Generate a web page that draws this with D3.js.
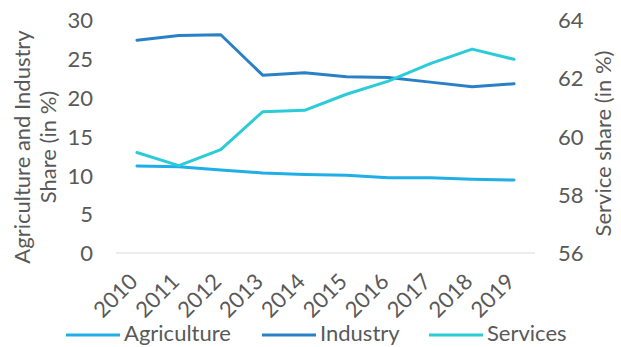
<!DOCTYPE html>
<html>
<head>
<meta charset="utf-8">
<script src="https://cdn.jsdelivr.net/npm/d3@7"></script>
<style>
  html, body { margin: 0; padding: 0; background: #fff; }
  svg { display: block; font-family: Lato, "Open Sans", sans-serif; }
</style>
</head>
<body>
<svg id="chart" width="621" height="347"></svg>
<script>
// Sector shares of GDP, 2010–2019
const years = ["2010","2011","2012","2013","2014","2015","2016","2017","2018","2019"];
const agriculture = [11.2, 11.1, 10.7, 10.3, 10.1, 10.0, 9.7, 9.7, 9.5, 9.4];
const industry    = [27.4, 28.0, 28.1, 22.9, 23.2, 22.7, 22.6, 22.0, 21.4, 21.8];
const services    = [59.45, 59.0, 59.55, 60.85, 60.9, 61.45, 61.9, 62.5, 63.0, 62.65];
const leftTicks  = [0, 5, 10, 15, 20, 25, 30];
const rightTicks = [56, 58, 60, 62, 64];

const colors = { Agriculture: "#20aee6", Industry: "#2a80c6", Services: "#2ccbd8" };
const textColor = "#595959";
const fontSize = "22px";

const svg = d3.select("#chart");
const plot = { left: 116, right: 535, top: 20, bottom: 253 };

const x = d3.scaleBand().domain(years).range([plot.left, plot.right]);
const yL = d3.scaleLinear().domain([0, 30]).range([plot.bottom, plot.top]);
const yR = d3.scaleLinear().domain([56, 64]).range([plot.bottom, plot.top]);
const cx = d => x(d) + x.bandwidth() / 2;

// baseline
svg.append("line")
  .attr("x1", plot.left).attr("x2", plot.right)
  .attr("y1", yL(0)).attr("y2", yL(0))
  .attr("stroke", "#d9d9d9").attr("stroke-width", 1);

// left axis
const axL = d3.axisLeft(yL).tickValues(leftTicks).tickSize(0).tickPadding(0);
const gL = svg.append("g").attr("transform", "translate(93,0)").call(axL);
gL.select(".domain").remove();
gL.selectAll("text").attr("fill", textColor).style("font-size", fontSize).style("font-family", "Lato").attr("dy", "0.35em");

// right axis
const axR = d3.axisRight(yR).tickValues(rightTicks).tickSize(0).tickPadding(0);
const gR = svg.append("g").attr("transform", "translate(558,0)").call(axR);
gR.select(".domain").remove();
gR.selectAll("text").attr("fill", textColor).style("font-size", fontSize).style("font-family", "Lato").attr("dy", "0.35em");

// x axis labels, rotated
const gX = svg.append("g");
gX.selectAll("text").data(years).join("text")
  .attr("transform", d => `translate(${cx(d) + 2},${283}) rotate(-45)`)
  .attr("text-anchor", "end")
  .attr("fill", textColor)
  .style("font-size", fontSize)
  .text(d => d);

// axis titles
const titleL = svg.append("text")
  .attr("transform", `translate(0,147) rotate(-90)`)
  .attr("text-anchor", "middle")
  .attr("fill", textColor)
  .style("font-size", fontSize);
titleL.append("tspan").attr("x", 0).attr("y", 22).attr("dy", "0.35em").text("Agriculture and Industry");
titleL.append("tspan").attr("x", 0).attr("y", 48).attr("dy", "0.35em").text("Share (in %)");

svg.append("text")
  .attr("transform", `translate(0,143.5) rotate(-90)`)
  .attr("text-anchor", "middle")
  .attr("x", 0).attr("y", 603)
  .attr("dy", "0.35em")
  .attr("fill", textColor)
  .style("font-size", fontSize)
  .text("Service share (in %)");

// series lines
const seriesDefs = [
  { name: "Agriculture", values: agriculture, scale: yL },
  { name: "Industry", values: industry, scale: yL },
  { name: "Services", values: services, scale: yR }
];
seriesDefs.forEach(s => {
  const line = d3.line().x((v, i) => cx(years[i])).y(v => s.scale(v));
  svg.append("path")
    .datum(s.values)
    .attr("d", line)
    .attr("fill", "none")
    .attr("stroke", colors[s.name])
    .attr("stroke-width", 3)
    .attr("stroke-linejoin", "round")
    .attr("stroke-linecap", "round");
});

// legend
const legendItems = [
  { name: "Agriculture", x: 66 },
  { name: "Industry", x: 262 },
  { name: "Services", x: 429 }
];
const lg = svg.append("g").attr("transform", "translate(0,335)");
legendItems.forEach(it => {
  lg.append("line")
    .attr("x1", it.x).attr("x2", it.x + 54)
    .attr("y1", 0).attr("y2", 0)
    .attr("stroke", colors[it.name]).attr("stroke-width", 3);
  lg.append("text")
    .attr("x", it.x + 58).attr("y", 6)
    .attr("fill", textColor).style("font-size", fontSize)
    .text(it.name);
});
</script>
</body>
</html>
